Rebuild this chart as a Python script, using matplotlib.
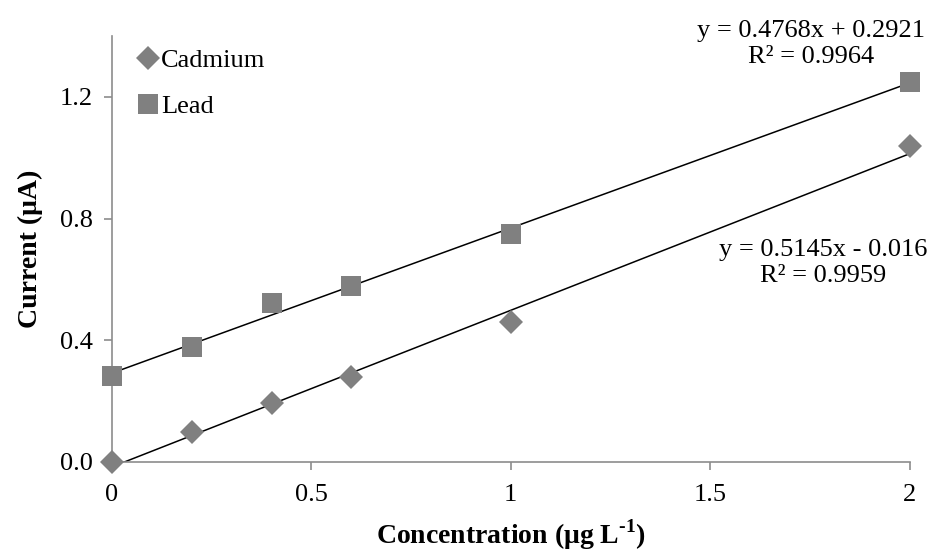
import numpy as np
import matplotlib.pyplot as plt

plt.rcParams['font.family'] = ['Liberation Serif', 'DejaVu Serif']
plt.rcParams['mathtext.fontset'] = 'custom'
plt.rcParams['mathtext.rm'] = 'Liberation Serif:bold'
plt.rcParams['mathtext.bf'] = 'Liberation Serif:bold'

conc = [0, 0.2, 0.4, 0.6, 1, 2]
cadmium = [0.0, 0.098, 0.193, 0.279, 0.459, 1.038]
lead = [0.282, 0.377, 0.521, 0.577, 0.748, 1.249]

cd_fit = (0.5145, -0.016)
pb_fit = (0.4768, 0.2921)

xticks = [0, 0.5, 1, 1.5, 2]
xtick_labels = ['0', '0.5', '1', '1.5', '2']
yticks = [0.0, 0.4, 0.8, 1.2]

fig = plt.figure(figsize=(9.35, 5.53), dpi=100)
ax = fig.add_axes([0.1198, 0.1646, 0.853, 0.7703])

grey = '#808080'
spine = '#8c8c8c'

xs = np.array([0, 2])
ax.plot(xs, cd_fit[0] * xs + cd_fit[1], color='black', lw=1.1, zorder=2)
ax.plot(xs, pb_fit[0] * xs + pb_fit[1], color='black', lw=1.1, zorder=2)

ax.plot(conc, cadmium, 'D', color=grey, ms=12, mew=0, label='Cadmium',
        zorder=3, clip_on=False)
ax.plot(conc, lead, 's', color=grey, ms=15, mew=0, label='Lead',
        zorder=3, clip_on=False)

ax.set_xlim(0, 2)
ax.set_ylim(0, 1.4)
ax.set_xticks(xticks)
ax.set_xticklabels(xtick_labels)
ax.set_yticks(yticks)
ax.set_yticklabels([f'{v:.1f}' for v in yticks])

for s in ['top', 'right']:
    ax.spines[s].set_visible(False)
for s in ['left', 'bottom']:
    ax.spines[s].set_color(spine)
    ax.spines[s].set_linewidth(1.2)
ax.tick_params(axis='both', colors=spine, labelcolor='black', labelsize=19,
               length=6, width=1.2)
ax.tick_params(axis='x', pad=10)
ax.tick_params(axis='y', pad=8)

ax.set_xlabel(r'Concentration (μg L$^{\text{-1}}$)',
              fontsize=20, fontweight='bold', labelpad=8)
ax.set_ylabel('Current (μA)', fontsize=20, fontweight='bold', labelpad=12)

ax.text(1.752, 1.373, 'y = 0.4768x + 0.2921\nR² = 0.9964', fontsize=19,
        ha='center', va='center', multialignment='center', linespacing=1.25,
        clip_on=False)
ax.text(1.784, 0.653, 'y = 0.5145x - 0.016\nR² = 0.9959', fontsize=19,
        ha='center', va='center', multialignment='center', linespacing=1.25,
        clip_on=False)

ax.legend(loc='upper left', bbox_to_anchor=(0.005, 1.014), frameon=False,
          fontsize=19, handletextpad=0.0, labelspacing=0.85,
          handlelength=1.0, borderpad=0.2)

fig.savefig('out.png', dpi=100)
